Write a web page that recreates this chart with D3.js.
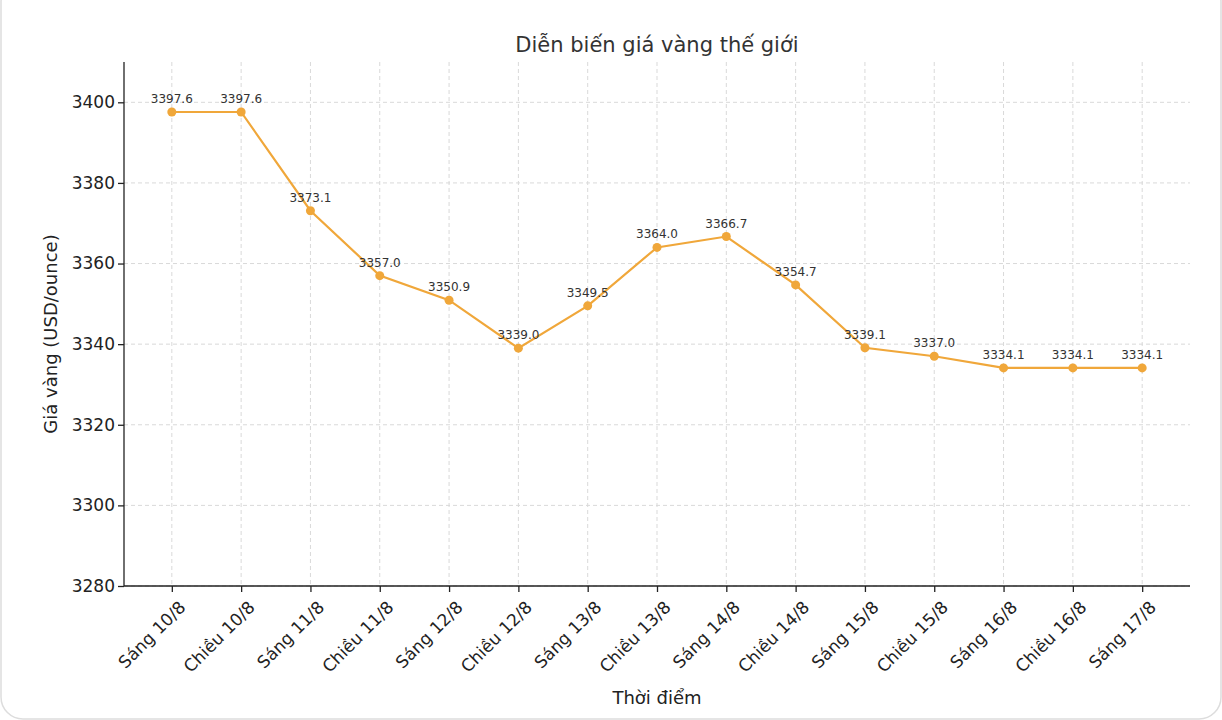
<!DOCTYPE html>
<html><head><meta charset="utf-8">
<script src="https://cdn.jsdelivr.net/npm/d3@7"></script>
<style>body{margin:0;background:#fff;font-family:"DejaVu Sans",sans-serif;}</style>
</head><body>
<svg id="c" width="1222" height="720"></svg>
<script>
const categories = ["Sáng 10/8","Chiều 10/8","Sáng 11/8","Chiều 11/8","Sáng 12/8","Chiều 12/8","Sáng 13/8","Chiều 13/8","Sáng 14/8","Chiều 14/8","Sáng 15/8","Chiều 15/8","Sáng 16/8","Chiều 16/8","Sáng 17/8"];
const prices = [3397.6,3397.6,3373.1,3357.0,3350.9,3339.0,3349.5,3364.0,3366.7,3354.7,3339.1,3337.0,3334.1,3334.1,3334.1];
const yTicks = [3280,3300,3320,3340,3360,3380,3400];

const svg = d3.select("#c");
svg.append("rect").attr("x",1).attr("y",-20).attr("width",1220).attr("height",739).attr("rx",22)
  .attr("fill","#fff").attr("stroke","#ddd").attr("stroke-width",1.5);
const L=124,R=1190,T=62,B=586;
const x = d3.scalePoint().domain(categories).range([L,R]).padding(0.69);
const y = d3.scaleLinear().domain([3280,3410]).range([B,T]);
const g = svg.append("g");
// grid
g.selectAll(".hg").data(yTicks).join("line").attr("x1",L).attr("x2",R).attr("y1",d=>y(d)).attr("y2",d=>y(d))
 .attr("stroke","#d9d9d9").attr("stroke-dasharray","4,3");
g.selectAll(".vg").data(categories).join("line").attr("y1",T).attr("y2",B).attr("x1",d=>x(d)).attr("x2",d=>x(d))
 .attr("stroke","#d9d9d9").attr("stroke-dasharray","4,3");
// axes
const ya = svg.append("g").attr("transform",`translate(${L},0)`).call(d3.axisLeft(y).tickValues(yTicks).tickFormat(d3.format("d")).tickSizeOuter(0).tickSize(6));
ya.select(".domain").attr("d",`M0,${T}V${B}`);
ya.selectAll("text").attr("font-size",17).attr("fill","#222").attr("font-family","DejaVu Sans");
const xa = svg.append("g").attr("transform",`translate(0,${B})`).call(d3.axisBottom(x).tickSizeOuter(0).tickSize(6));
xa.select(".domain").attr("d",`M${L},0H${R}`);
xa.selectAll("text").attr("font-size",17).attr("fill","#222").attr("font-family","DejaVu Sans")
  .attr("text-anchor","end").attr("dy","0").attr("dx","0").attr("transform","translate(8,16) rotate(-45)");
svg.selectAll(".domain,.tick line").attr("stroke","#222").attr("stroke-width",1.3);
// line
svg.append("path").datum(prices).attr("fill","none").attr("stroke","#f0a73a").attr("stroke-width",2.2)
 .attr("d",d3.line().x((d,i)=>x(categories[i])).y(d=>y(d)));
svg.selectAll(".pt").data(prices).join("circle").attr("cx",(d,i)=>x(categories[i])).attr("cy",d=>y(d)).attr("r",4.5).attr("fill","#f0a73a");
svg.selectAll(".lb").data(prices).join("text").attr("x",(d,i)=>x(categories[i])).attr("y",d=>y(d)-9)
 .attr("text-anchor","middle").attr("font-size",12).attr("fill","#333").text(d=>d.toFixed(1));
// titles
svg.append("text").attr("x",657).attr("y",52).attr("text-anchor","middle").attr("font-size",21).attr("fill","#333").text("Diễn biến giá vàng thế giới");
svg.append("text").attr("x",657).attr("y",704).attr("text-anchor","middle").attr("font-size",18).attr("fill","#222").text("Thời điểm");
svg.append("text").attr("transform",`translate(57,${(T+B)/2+10}) rotate(-90)`).attr("text-anchor","middle").attr("font-size",18).attr("fill","#222").text("Giá vàng (USD/ounce)");
</script>
</body></html>
